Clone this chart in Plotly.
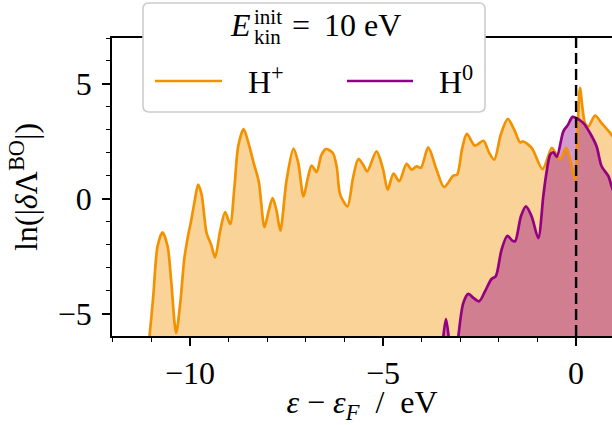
import plotly.graph_objects as go

# Energy relative to the Fermi level (eV) and ln|δΛ^BO| for the two projectile charge states
h_plus_energy = [-11.15, -11.05, -10.95, -10.84, -10.71, -10.58, -10.49, -10.36, -10.25, -10.15,
                 -10.05, -9.97, -9.88, -9.79, -9.70, -9.57, -9.45, -9.35, -9.22, -9.09,
                 -8.96, -8.85, -8.75, -8.61, -8.48, -8.35, -8.22, -8.07, -7.96, -7.86,
                 -7.76, -7.66, -7.50, -7.32, -7.20, -7.06, -6.95, -6.85, -6.72, -6.60,
                 -6.48, -6.30, -6.20, -6.11, -5.92, -5.78, -5.64, -5.52, -5.41, -5.17,
                 -5.00, -4.88, -4.73, -4.58, -4.39, -4.26, -4.13, -4.02, -3.83, -3.62,
                 -3.42, -3.18, -3.08, -2.95, -2.83, -2.62, -2.40, -2.25, -2.12, -1.95,
                 -1.77, -1.60, -1.45, -1.37, -1.15, -0.87, -0.63, -0.55, -0.41, -0.26,
                 -0.15, -0.03, 0.04, 0.10, 0.17, 0.23, 0.32, 0.49, 0.66, 0.88, 1.00]
h_plus_value = [-7.5, -6.0, -4.2, -2.06, -1.45, -2.06, -3.5, -5.83, -4.5, -2.64,
                -1.6, -0.95, -0.1, 0.62, 0.2, -1.48, -2.0, -2.54, -1.4, -0.57,
                -1.09, 0.5, 2.3, 3.04, 2.4, 1.56, 0.77, -1.23, -0.5, 0.04,
                -0.5, -1.38, 0.8, 2.19, 1.6, 0.11, 0.9, 1.45, 1.17, 1.9,
                2.17, 2.0, 1.4, 0.19, -0.32, 0.9, 1.74, 1.5, 1.2, 2.07,
                1.3, 0.4, 1.1, 0.77, 1.53, 1.27, 1.42, 1.35, 2.24, 1.3,
                0.52, 1.01, 1.06, 2.2, 2.83, 2.32, 2.53, 2.0, 1.71, 2.8,
                3.48, 3.0, 2.46, 2.5, 2.22, 1.30, 2.22, 2.05, 1.71, 2.22,
                1.71, 0.84, 3.0, 4.83, 3.9, 3.3, 3.16, 3.62, 3.3, 2.87, 2.6]

h0_energy = [-3.50, -3.44, -3.37, -3.30, -3.24, -3.12, -3.05, -2.92, -2.79, -2.66,
             -2.51, -2.36, -2.19, -2.08, -1.93, -1.78, -1.66, -1.58, -1.43, -1.30,
             -1.15, -0.98, -0.85, -0.78, -0.67, -0.59, -0.50, -0.33, -0.22, -0.09,
             0.00, 0.19, 0.36, 0.53, 0.66, 0.84, 0.92, 1.00]
h0_value = [-7.5, -6.0, -5.22, -6.0, -7.5, -7.5, -6.0, -4.52, -4.13, -4.3,
            -4.45, -4.02, -3.48, -3.36, -2.2, -1.6, -1.8, -1.84, -0.76, -0.32,
            -0.76, -1.70, 0.11, 1.0, 1.93, 2.03, 1.83, 2.94, 3.2, 3.57,
            3.52, 3.30, 2.87, 2.29, 1.42, 0.98, 0.55, 0.2]

x_ticks = [-10, -5, 0]
x_tick_text = ["\u221210", "\u22125", "0"]
y_ticks = [-5, 0, 5]
y_tick_text = ["\u22125", "0", "5"]

ORANGE = "rgb(243,146,0)"
ORANGE_FILL = "rgba(243,146,0,0.4)"
PURPLE = "rgb(148,0,130)"
PURPLE_FILL = "rgba(148,0,130,0.4)"
FONT = "Liberation Serif"
FS = 32

W, H = 612, 425
ML, MR, MT, MB = 112, 0, 38, 89
PW, PH = W - ML - MR, H - MT - MB


def px(x):
    return (x - ML) / PW


def py(y):
    return (H - MB - y) / PH


FLOOR = -20.0

fig = go.Figure()

# orange filled area down to the floor
fig.add_trace(go.Scatter(x=[h_plus_energy[0], h_plus_energy[-1]], y=[FLOOR, FLOOR],
                         mode="lines", line=dict(width=0), hoverinfo="skip", showlegend=False))
fig.add_trace(go.Scatter(x=h_plus_energy, y=h_plus_value, mode="lines", fill="tonexty",
                         fillcolor=ORANGE_FILL, line=dict(width=0, shape="spline", smoothing=0.8),
                         hoverinfo="skip", showlegend=False))
# purple filled area
fig.add_trace(go.Scatter(x=[h0_energy[0], h0_energy[-1]], y=[FLOOR, FLOOR],
                         mode="lines", line=dict(width=0), hoverinfo="skip", showlegend=False))
fig.add_trace(go.Scatter(x=h0_energy, y=h0_value, mode="lines", fill="tonexty",
                         fillcolor=PURPLE_FILL, line=dict(width=0, shape="spline", smoothing=0.8),
                         hoverinfo="skip", showlegend=False))
# outlines
fig.add_trace(go.Scatter(x=h_plus_energy, y=h_plus_value, mode="lines", name="H<sup>+</sup>",
                         line=dict(color=ORANGE, width=2.7, shape="spline", smoothing=0.8),
                         showlegend=False))
fig.add_trace(go.Scatter(x=h0_energy, y=h0_value, mode="lines", name="H<sup>0</sup>",
                         line=dict(color=PURPLE, width=2.7, shape="spline", smoothing=0.8),
                         showlegend=False))

axis_common = dict(
    showline=True, linecolor="black", linewidth=1.8,
    ticks="outside", ticklen=8, tickwidth=1.8, tickcolor="black",
    showgrid=False, zeroline=False,
    tickfont=dict(family=FONT, size=FS, color="black"),
)

fig.update_xaxes(
    range=[-12.02, 0.93], tickmode="array", tickvals=x_ticks, ticktext=x_tick_text,
    mirror=True,
    minor=dict(ticks="outside", dtick=1, tick0=0, ticklen=4.5, tickwidth=1.4, tickcolor="black"),
    title=dict(text="<i>\u03b5</i> \u2212 <i>\u03b5</i><sub><i>F</i></sub>  /  eV",
               font=dict(family=FONT, size=FS, color="black"), standoff=7),
    **axis_common,
)
fig.update_yaxes(
    range=[-5.96, 7.0], tickmode="array", tickvals=y_ticks, ticktext=y_tick_text,
    ticklabelstandoff=4,
    minor=dict(ticks="outside", dtick=1, tick0=0, ticklen=4.5, tickwidth=1.4, tickcolor="black"),
    title=dict(text="ln(|<i>\u03b4</i>\u039b<sup>BO</sup>|)",
               font=dict(family=FONT, size=FS, color="black"), standoff=10),
    **axis_common,
)

# legend frame with rounded corners
bx0, bx1, by0, by1 = 143, 485, 3, 112
r = 6
X0, X1, Y0, Y1 = px(bx0), px(bx1), py(by1), py(by0)
rx, ry = r / PW, r / PH
frame = (f"M {X0+rx},{Y0} L {X1-rx},{Y0} Q {X1},{Y0} {X1},{Y0+ry} "
         f"L {X1},{Y1-ry} Q {X1},{Y1} {X1-rx},{Y1} L {X0+rx},{Y1} Q {X0},{Y1} {X0},{Y1-ry} "
         f"L {X0},{Y0+ry} Q {X0},{Y0} {X0+rx},{Y0} Z")

shapes = [
    dict(type="line", xref="x", yref="paper", x0=0, x1=0, y0=0, y1=1,
         line=dict(color="black", width=2.4, dash="11px,5px"), layer="above"),
    dict(type="path", xref="paper", yref="paper", path=frame,
         fillcolor="white", line=dict(color="rgb(204,204,204)", width=1.6), layer="above"),
    dict(type="line", xref="paper", yref="paper", x0=px(155), x1=px(222), y0=py(81), y1=py(81),
         line=dict(color=ORANGE, width=2.7), layer="above"),
    dict(type="line", xref="paper", yref="paper", x0=px(347), x1=px(413), y0=py(81), y1=py(81),
         line=dict(color=PURPLE, width=2.7), layer="above"),
]


def label(text, x, y, size=FS, xanchor="left"):
    return dict(text=text, xref="paper", yref="paper", x=px(x), y=py(y),
                xanchor=xanchor, yanchor="middle", showarrow=False,
                font=dict(family=FONT, size=size, color="black"))


annotations = [
    label("<i>E</i>", 253, 25, xanchor="right"),
    label("init", 252, 17, size=21),
    label("kin", 252, 37, size=21),
    label("=", 290, 25),
    label("10 eV", 322, 25),
    label("H<sup>+</sup>", 246, 80),
    label("H<sup>0</sup>", 437, 80),
]

fig.update_layout(
    width=W, height=H,
    margin=dict(l=ML, r=MR, t=MT, b=MB, pad=0),
    plot_bgcolor="white", paper_bgcolor="white",
    showlegend=False,
    shapes=shapes, annotations=annotations,
)

fig.write_html("out.html")
